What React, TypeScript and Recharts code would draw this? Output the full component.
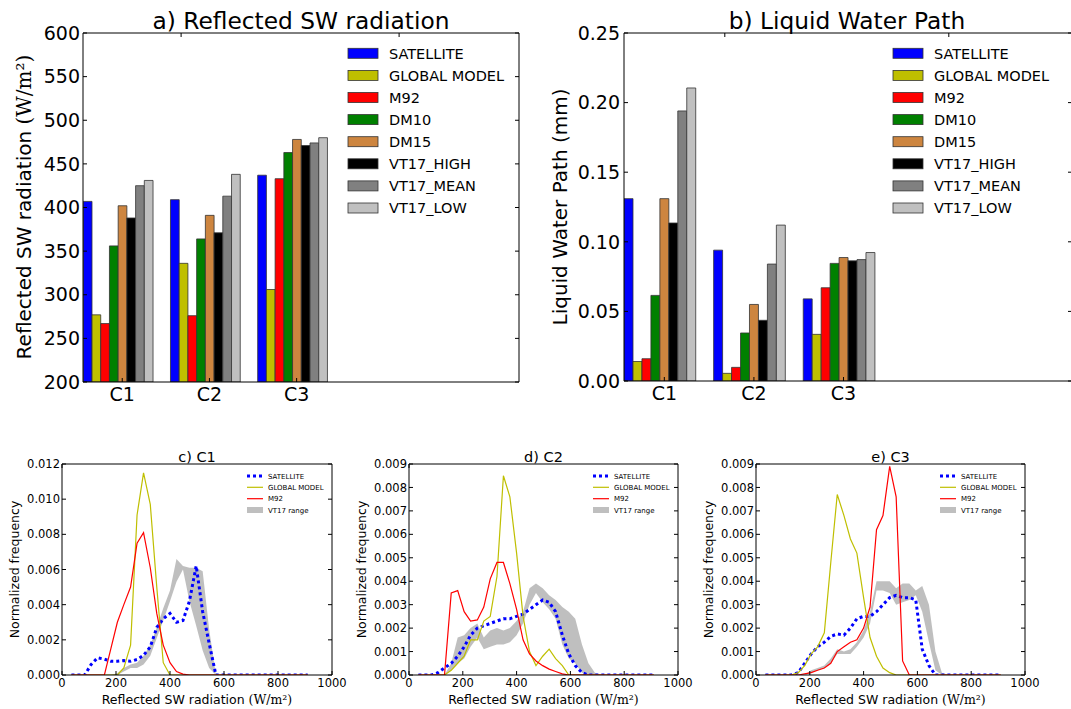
import React from 'react';
import { BarChart, Bar, XAxis, YAxis, ComposedChart, Line, Area } from 'recharts';

const FONT = '"DejaVu Sans", Verdana, sans-serif';
const MATH_FONT = '"DejaVu Serif", serif';
const INK = '#000000';

// ---------- bar panels (a, b) ----------
const CASES = ['C1', 'C2', 'C3'];
const BAR_SERIES = ['SATELLITE', 'GLOBAL MODEL', 'M92', 'DM10', 'DM15', 'VT17_HIGH', 'VT17_MEAN', 'VT17_LOW'];
const BAR_COLORS = ['#0000ff', '#bfbf00', '#ff0000', '#008000', '#cd853f', '#000000', '#808080', '#c0c0c0'];

const SW_SATELLITE = [407, 409, 437];
const SW_GLOBAL = [277, 336, 306];
const SW_M92 = [267, 276, 433];
const SW_DM10 = [356, 364, 463];
const SW_DM15 = [402, 391, 478];
const SW_VT17_HIGH = [388, 371, 471];
const SW_VT17_MEAN = [425, 413, 474];
const SW_VT17_LOW = [431, 438, 480];

const LWP_SATELLITE = [0.131, 0.094, 0.059];
const LWP_GLOBAL = [0.014, 0.0055, 0.0335];
const LWP_M92 = [0.016, 0.0098, 0.067];
const LWP_DM10 = [0.0615, 0.0345, 0.0845];
const LWP_DM15 = [0.131, 0.055, 0.0887];
const LWP_VT17_HIGH = [0.1135, 0.0436, 0.0863];
const LWP_VT17_MEAN = [0.194, 0.084, 0.0872];
const LWP_VT17_LOW = [0.2105, 0.112, 0.0923];

const SW_TICKS = [200, 250, 300, 350, 400, 450, 500, 550, 600];
const LWP_TICKS = [0, 0.05, 0.1, 0.15, 0.2, 0.25];

// ---------- distribution panels (c, d, e) ----------
const BIN_CENTERS = [35, 59, 84, 108, 132, 157, 181, 205, 229, 254, 278, 302, 327, 351, 375, 400, 424, 448, 472, 497, 521, 545, 570, 594, 618, 643, 667, 691, 715, 740, 764, 788, 813, 837, 861, 886, 910];
const DIST_X_TICKS = [0, 200, 400, 600, 800, 1000];
const C1_Y_TICKS = [0, 0.002, 0.004, 0.006, 0.008, 0.01, 0.012];
const C23_Y_TICKS = [0, 0.001, 0.002, 0.003, 0.004, 0.005, 0.006, 0.007, 0.008, 0.009];

const C1_SAT = [0, 0, 0, 0.0006, 0.00098, 0.0009, 0.00078, 0.00078, 0.00082, 0.00078, 0.00088, 0.00112, 0.0016, 0.0027, 0.0032, 0.0035, 0.003, 0.0031, 0.0042, 0.0062, 0.0036, 0.0018, 0, 0, 0, 0, 0, 0, 0, 0, 0, 0, 0, 0, 0, 0, 0];
const C1_GLOB = [0, 0, 0, 0, 0, 0, 0, 0, 0.0004, 0.0017, 0.0091, 0.0115, 0.0097, 0.005, 0.0007, 0, 0, 0, 0, 0, 0, 0, 0, 0, 0, 0, 0, 0, 0, 0, 0, 0, 0, 0, 0, 0, 0];
const C1_M92 = [0, 0, 0, 0, 0, 0, 0.0015, 0.003, 0.004, 0.005, 0.0075, 0.0081, 0.0061, 0.0035, 0.0017, 0.0007, 0.0002, 0.00005, 0, 0, 0, 0, 0, 0, 0, 0, 0, 0, 0, 0, 0, 0, 0, 0, 0, 0, 0];
const C1_VT_LO = [0, 0, 0, 0, 0, 0, 0, 0, 0.0002, 0.0004, 0.0004, 0.0006, 0.0011, 0.0021, 0.0031, 0.0042, 0.0053, 0.006, 0.0042, 0.0028, 0.0014, 0.0004, 0, 0, 0, 0, 0, 0, 0, 0, 0, 0, 0, 0, 0, 0, 0];
const C1_VT_HI = [0, 0, 0, 0, 0, 0, 0, 0.0001, 0.0004, 0.0006, 0.0007, 0.0011, 0.0017, 0.0027, 0.0038, 0.0048, 0.0066, 0.0062, 0.0061, 0.0061, 0.0059, 0.0026, 0, 0, 0, 0, 0, 0, 0, 0, 0, 0, 0, 0, 0, 0, 0];

const C2_SAT = [0, 0, 0, 0.0001, 0.0003, 0.0005, 0.0008, 0.0012, 0.0017, 0.002, 0.0021, 0.0022, 0.0023, 0.0024, 0.0024, 0.0025, 0.0026, 0.0028, 0.003, 0.0032, 0.0031, 0.0027, 0.0017, 0.0009, 0.0004, 0.0001, 0, 0, 0, 0, 0, 0, 0, 0, 0, 0, 0];
const C2_GLOB = [0, 0, 0, 0, 0, 0.0002, 0.0005, 0.0008, 0.0015, 0.0015, 0.0023, 0.0025, 0.0042, 0.0085, 0.0076, 0.0052, 0.0025, 0.001, 0.0004, 0.0008, 0.0011, 0.0007, 0.0004, 0, 0, 0, 0, 0, 0, 0, 0, 0, 0, 0, 0, 0, 0];
const C2_M92 = [0, 0, 0, 0, 0, 0.0035, 0.0036, 0.0027, 0.0023, 0.00235, 0.0029, 0.0041, 0.0048, 0.0048, 0.0039, 0.0028, 0.0015, 0.0009, 0.0006, 0.0004, 0.00025, 0.00015, 0.00005, 0, 0, 0, 0, 0, 0, 0, 0, 0, 0, 0, 0, 0, 0];
const C2_VT_LO = [0, 0, 0, 0, 0, 0.0002, 0.0005, 0.0007, 0.0012, 0.0016, 0.0011, 0.0012, 0.0013, 0.0013, 0.0014, 0.0017, 0.0022, 0.003, 0.0035, 0.0031, 0.0028, 0.0024, 0.0013, 0.0007, 0.0005, 0.0001, 0, 0, 0, 0, 0, 0, 0, 0, 0, 0, 0];
const C2_VT_HI = [0, 0, 0, 0, 0, 0.0005, 0.0016, 0.0017, 0.002, 0.0022, 0.0016, 0.0019, 0.002, 0.0019, 0.002, 0.0023, 0.0027, 0.0037, 0.0039, 0.0037, 0.0034, 0.0032, 0.0029, 0.0027, 0.0024, 0.0013, 0.0005, 0.0001, 0, 0, 0, 0, 0, 0, 0, 0, 0];

const C3_SAT = [0, 0, 0, 0, 0, 0.0001, 0.0005, 0.0009, 0.0012, 0.0014, 0.00165, 0.00175, 0.0017, 0.002, 0.0024, 0.0025, 0.0025, 0.0027, 0.003, 0.0033, 0.0034, 0.0033, 0.0033, 0.0032, 0.0011, 0.0004, 0, 0, 0, 0, 0, 0, 0, 0, 0, 0, 0];
const C3_GLOB = [0, 0, 0, 0, 0, 0.0001, 0.0004, 0.0009, 0.0012, 0.0018, 0.0048, 0.0077, 0.0068, 0.0058, 0.0052, 0.0033, 0.0016, 0.0008, 0.0003, 0.0001, 0, 0, 0, 0, 0, 0, 0, 0, 0, 0, 0, 0, 0, 0, 0, 0, 0];
const C3_M92 = [0, 0, 0, 0, 0, 0, 0.00005, 0.0001, 0.0002, 0.0003, 0.0005, 0.001, 0.0012, 0.0014, 0.0015, 0.002, 0.0029, 0.0062, 0.0068, 0.0089, 0.0076, 0.0006, 0, 0, 0, 0, 0, 0, 0, 0, 0, 0, 0, 0, 0, 0, 0];
const C3_VT_LO = [0, 0, 0, 0, 0, 0, 0, 0.0001, 0.0002, 0.0003, 0.0005, 0.0009, 0.0009, 0.0009, 0.0012, 0.0016, 0.0022, 0.0036, 0.0036, 0.0035, 0.003, 0.0031, 0.0032, 0.0034, 0.0027, 0.0014, 0.0002, 0, 0, 0, 0, 0, 0, 0, 0, 0, 0];
const C3_VT_HI = [0, 0, 0, 0, 0, 0, 0, 0.0002, 0.0003, 0.0004, 0.0007, 0.0011, 0.001, 0.0011, 0.0014, 0.0019, 0.0027, 0.004, 0.004, 0.004, 0.0037, 0.0039, 0.0039, 0.0036, 0.0038, 0.003, 0.001, 0.0001, 0, 0, 0, 0, 0, 0, 0, 0, 0];

const DIST_LEGEND = ['SATELLITE', 'GLOBAL MODEL', 'M92', 'VT17 range'];

// ---------- layout constants ----------
const X_UNITS = 5;
const BAR_UNIT = 0.1;
const GROUP_CENTER = 0.4;
const LABEL_OFFSET = 0.45;
const TOP_H = 420;
const BOT_TOP = 420;
const BOT_H = 289;

const blank = () => '';

function barRows(values: number[][]) {
  return CASES.map((c, i) => {
    const row: Record<string, number | string> = { pos: i + GROUP_CENTER, name: c };
    values.forEach((arr, k) => {
      row['s' + k] = arr[i];
    });
    return row;
  });
}

type BarPanelProps = {
  left: number;
  width: number;
  yAxisWidth: number;
  marginTop: number;
  marginRight: number;
  xAxisHeight: number;
  domain: [number, number];
  ticks: number[];
  fmt: (v: number) => string;
  tickMargin: number;
  values: number[][];
};

function BarPanel(p: BarPanelProps) {
  // plot area: from yAxisWidth to width - marginRight - 1 (1px right axis)
  const plotW = p.width - p.yAxisWidth - p.marginRight - 1;
  const barSize = (plotW / X_UNITS) * BAR_UNIT;
  const tickStyle = { fill: INK, fontSize: 19, fontFamily: FONT };
  const xTicks = CASES.map((_, i) => i + LABEL_OFFSET);
  const line = { stroke: INK, strokeWidth: 1 };
  return (
    <div style={{ position: 'absolute', left: p.left, top: 0 }}>
      <BarChart
        width={p.width}
        height={TOP_H}
        data={barRows(p.values)}
        margin={{ top: p.marginTop - 1, right: p.marginRight, bottom: 0, left: 0 }}
        barGap={0}
        barSize={barSize}
      >
        <XAxis xAxisId="b" dataKey="pos" type="number" domain={[0, X_UNITS]} ticks={xTicks} interval={0} allowDataOverflow
          height={p.xAxisHeight} tickSize={-4} tickMargin={10} tick={tickStyle}
          tickFormatter={(v: number) => CASES[Math.round(v - LABEL_OFFSET)]} axisLine={line} tickLine={line} />
        <XAxis xAxisId="t" orientation="top" type="number" domain={[0, X_UNITS]} ticks={xTicks} interval={0} allowDataOverflow
          height={1} tickSize={-4} tickFormatter={blank} axisLine={line} tickLine={line} />
        <YAxis yAxisId="l" type="number" domain={p.domain} ticks={p.ticks} interval={0} allowDataOverflow
          width={p.yAxisWidth} tickSize={-4} tickMargin={p.tickMargin} tick={tickStyle} tickFormatter={p.fmt}
          axisLine={line} tickLine={line} />
        <YAxis yAxisId="r" orientation="right" type="number" domain={p.domain} ticks={p.ticks} interval={0} allowDataOverflow
          width={1} tickSize={-4} tickFormatter={blank} axisLine={line} tickLine={line} />
        {BAR_SERIES.map((name, k) => (
          <Bar key={name} xAxisId="b" yAxisId="l" dataKey={'s' + k} name={name} fill={BAR_COLORS[k]}
            stroke="#333333" strokeWidth={0.8} isAnimationActive={false} />
        ))}
      </BarChart>
    </div>
  );
}

type DistPanelProps = {
  left: number;
  width: number;
  yAxisWidth: number;
  marginRight: number;
  yMax: number;
  yTicks: number[];
  sat: number[];
  glob: number[];
  m92: number[];
  lo: number[];
  hi: number[];
};

function DistPanel(p: DistPanelProps) {
  const rows = BIN_CENTERS.map((x, i) => ({ x, sat: p.sat[i], glob: p.glob[i], m92: p.m92[i], vt: [p.lo[i], p.hi[i]] }));
  const tickStyle = { fill: INK, fontSize: 11.5, fontFamily: FONT };
  const line = { stroke: INK, strokeWidth: 1 };
  return (
    <div style={{ position: 'absolute', left: p.left, top: BOT_TOP }}>
      <ComposedChart width={p.width} height={BOT_H} data={rows} margin={{ top: 43, right: p.marginRight - 1, bottom: 0, left: 0 }}>
        <XAxis xAxisId="b" dataKey="x" type="number" domain={[0, 1000]} ticks={DIST_X_TICKS} interval={0} allowDataOverflow
          height={34} tickSize={-4} tickMargin={8} tick={tickStyle} axisLine={line} tickLine={line} />
        <XAxis xAxisId="t" orientation="top" type="number" domain={[0, 1000]} ticks={DIST_X_TICKS} interval={0} allowDataOverflow
          height={1} tickSize={-4} tickFormatter={blank} axisLine={line} tickLine={line} />
        <YAxis yAxisId="l" type="number" domain={[0, p.yMax]} ticks={p.yTicks} interval={0} allowDataOverflow
          width={p.yAxisWidth} tickSize={-4} tickMargin={6} tick={tickStyle}
          tickFormatter={(v: number) => v.toFixed(3)} axisLine={line} tickLine={line} />
        <YAxis yAxisId="r" orientation="right" type="number" domain={[0, p.yMax]} ticks={p.yTicks} interval={0} allowDataOverflow
          width={1} tickSize={-4} tickFormatter={blank} axisLine={line} tickLine={line} />
        <Area xAxisId="b" yAxisId="l" type="linear" dataKey="vt" name="VT17 range" fill="#808080" fillOpacity={0.5}
          stroke="none" dot={false} activeDot={false} isAnimationActive={false} />
        <Line xAxisId="b" yAxisId="l" type="linear" dataKey="sat" name="SATELLITE" stroke="#0000ff" strokeWidth={3}
          strokeDasharray="3 3" dot={false} activeDot={false} isAnimationActive={false} />
        <Line xAxisId="b" yAxisId="l" type="linear" dataKey="glob" name="GLOBAL MODEL" stroke="#bfbf00" strokeWidth={1.2}
          dot={false} activeDot={false} isAnimationActive={false} />
        <Line xAxisId="b" yAxisId="l" type="linear" dataKey="m92" name="M92" stroke="#ff0000" strokeWidth={1.2}
          dot={false} activeDot={false} isAnimationActive={false} />
      </ComposedChart>
    </div>
  );
}

function BarLegend({ x }: { x: number }) {
  return (
    <g>
      {BAR_SERIES.map((name, k) => {
        const cy = 53.3 + 22.1 * k;
        return (
          <g key={name}>
            <rect x={x} y={cy - 5} width={30} height={10} fill={BAR_COLORS[k]} stroke="#333333" strokeWidth={0.8} />
            <text x={x + 41} y={cy + 5.2} fontSize={14.5} fontFamily={FONT} fill={INK}>{name}</text>
          </g>
        );
      })}
    </g>
  );
}

function DistLegend({ plotRight }: { plotRight: number }) {
  const x0 = plotRight - 85;
  const x1 = plotRight - 69;
  const tx = plotRight - 64;
  const rowsY = [476, 487.3, 498.7, 510];
  return (
    <g>
      <line x1={x0} x2={x1} y1={rowsY[0]} y2={rowsY[0]} stroke="#0000ff" strokeWidth={3} strokeDasharray="3 3" />
      <line x1={x0} x2={x1} y1={rowsY[1]} y2={rowsY[1]} stroke="#bfbf00" strokeWidth={1.2} />
      <line x1={x0} x2={x1} y1={rowsY[2]} y2={rowsY[2]} stroke="#ff0000" strokeWidth={1.2} />
      <rect x={x0} y={rowsY[3] - 3} width={x1 - x0} height={6} fill="#808080" fillOpacity={0.5} />
      {DIST_LEGEND.map((name, k) => (
        <text key={name} x={tx} y={rowsY[k] + 2.5} fontSize={7} fontFamily={FONT} fill={INK}>{name}</text>
      ))}
    </g>
  );
}

function SWLabel({ x, y, size, rotate }: { x: number; y: number; size: number; rotate?: boolean }) {
  return (
    <text transform={`translate(${x},${y})${rotate ? ' rotate(-90)' : ''}`} textAnchor="middle" fontSize={size} fontFamily={FONT} fill={INK}>
      {'Reflected SW radiation '}
      <tspan fontFamily={MATH_FONT}>(W/m²)</tspan>
    </text>
  );
}

function Overlay() {
  const bottomPlots = [
    { left: 62, right: 332, title: 'c) C1' },
    { left: 409, right: 678, title: 'd) C2' },
    { left: 756, right: 1025, title: 'e) C3' },
  ];
  return (
    <svg width={1071} height={709} style={{ position: 'absolute', left: 0, top: 0, pointerEvents: 'none' }}>
      <text x={301} y={28.5} textAnchor="middle" fontSize={23.3} fontFamily={FONT} fill={INK}>a) Reflected SW radiation</text>
      <text x={847} y={28.5} textAnchor="middle" fontSize={23.3} fontFamily={FONT} fill={INK}>b) Liquid Water Path</text>
      <SWLabel x={31} y={207} size={20} rotate />
      <text transform="translate(567,207) rotate(-90)" textAnchor="middle" fontSize={20} fontFamily={FONT} fill={INK}>Liquid Water Path (mm)</text>
      <BarLegend x={348} />
      <BarLegend x={893} />
      {bottomPlots.map((b) => (
        <g key={b.title}>
          <text x={(b.left + b.right) / 2} y={462} textAnchor="middle" fontSize={14.5} fontFamily={FONT} fill={INK}>{b.title}</text>
          <SWLabel x={(b.left + b.right) / 2} y={704} size={12.5} />
          <text transform={`translate(${b.left - 43.5},569.5) rotate(-90)`} textAnchor="middle" fontSize={12.5} fontFamily={FONT} fill={INK}>Normalized frequency</text>
          <DistLegend plotRight={b.right} />
        </g>
      ))}
    </svg>
  );
}

export default function App() {
  return (
    <div style={{ position: 'absolute', left: 0, top: 0, width: 1071, height: 709, overflow: 'hidden', background: '#ffffff', fontFamily: FONT }}>
      <BarPanel left={0} width={540} yAxisWidth={83} marginTop={33} marginRight={20} xAxisHeight={38}
        domain={[200, 600]} ticks={SW_TICKS} fmt={(v: number) => String(v)} tickMargin={7}
        values={[SW_SATELLITE, SW_GLOBAL, SW_M92, SW_DM10, SW_DM15, SW_VT17_HIGH, SW_VT17_MEAN, SW_VT17_LOW]} />
      <BarPanel left={540} width={533} yAxisWidth={84} marginTop={33} marginRight={0} xAxisHeight={39}
        domain={[0, 0.25]} ticks={LWP_TICKS} fmt={(v: number) => v.toFixed(2)} tickMargin={8}
        values={[LWP_SATELLITE, LWP_GLOBAL, LWP_M92, LWP_DM10, LWP_DM15, LWP_VT17_HIGH, LWP_VT17_MEAN, LWP_VT17_LOW]} />
      <DistPanel left={0} width={360} yAxisWidth={62} marginRight={28} yMax={0.012} yTicks={C1_Y_TICKS}
        sat={C1_SAT} glob={C1_GLOB} m92={C1_M92} lo={C1_VT_LO} hi={C1_VT_HI} />
      <DistPanel left={360} width={350} yAxisWidth={49} marginRight={32} yMax={0.009} yTicks={C23_Y_TICKS}
        sat={C2_SAT} glob={C2_GLOB} m92={C2_M92} lo={C2_VT_LO} hi={C2_VT_HI} />
      <DistPanel left={700} width={371} yAxisWidth={56} marginRight={46} yMax={0.009} yTicks={C23_Y_TICKS}
        sat={C3_SAT} glob={C3_GLOB} m92={C3_M92} lo={C3_VT_LO} hi={C3_VT_HI} />
      <Overlay />
    </div>
  );
}
